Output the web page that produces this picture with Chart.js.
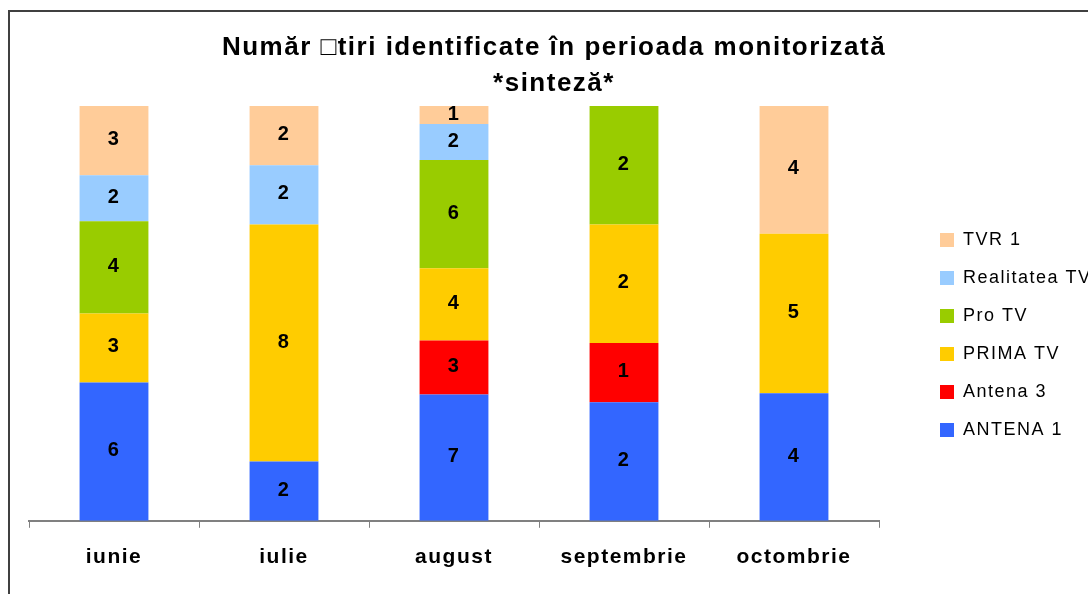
<!DOCTYPE html>
<html>
<head>
<meta charset="utf-8">
<script src="https://cdn.jsdelivr.net/npm/chart.js@4/dist/chart.umd.min.js"></script>
<style>
  html, body { margin: 0; padding: 0; background: #fff; overflow: hidden; width: 1088px; height: 594px; }
  #frame { position: absolute; left: 8px; top: 10px; width: 1200px; height: 700px;
           border-left: 2px solid #404040; border-top: 2px solid #404040; }
  #c { position: absolute; left: 0; top: 0; }
</style>
</head>
<body>
<div id="frame"></div>
<canvas id="c" width="1108" height="594" style="width:1108px;height:594px"></canvas>
<script>
// ---- data ----
const titleLines = ['Număr \u25A1tiri identificate în perioada monitorizată', '*sinteză*'];
const months = ['iunie', 'iulie', 'august', 'septembrie', 'octombrie'];
const seriesNames = ['ANTENA 1', 'Antena 3', 'PRIMA TV', 'Pro TV', 'Realitatea TV', 'TVR 1'];
const antena1    = [6, 2, 7, 2, 4];
const antena3    = [0, 0, 3, 1, 0];
const primaTv    = [3, 8, 4, 2, 5];
const proTv      = [4, 0, 6, 2, 0];
const realitatea = [2, 2, 2, 0, 0];
const tvr1       = [3, 2, 1, 0, 4];
const seriesColors = ['#3366FF', '#FF0000', '#FFCC00', '#99CC00', '#99CCFF', '#FFCC99'];

const rawSeries = [antena1, antena3, primaTv, proTv, realitatea, tvr1];
const totals = months.map((m, j) => rawSeries.reduce((s, arr) => s + arr[j], 0));

const FONT = "'Liberation Sans', Arial, sans-serif";
Chart.defaults.font.family = FONT;
Chart.defaults.color = '#000';

const spacingPlugin = {
  id: 'spacing',
  afterInit(chart) { chart.ctx.letterSpacing = '1.5px'; },
  beforeUpdate(chart) { chart.ctx.letterSpacing = '1.5px'; },
  beforeDraw(chart) { chart.ctx.letterSpacing = '1.5px'; },
  afterLayout(chart) {
    const lg = chart.legend;
    if (!lg) return;
    lg.left = 920; lg.right = 1108; lg.width = lg.right - lg.left;
    lg.top = 211; lg.bottom = 594; lg.height = lg.bottom - lg.top;
  }
};

const valueLabels = {
  id: 'valueLabels',
  afterDatasetsDraw(chart) {
    const ctx = chart.ctx;
    ctx.save();
    ctx.font = 'bold 20px ' + FONT;
    ctx.fillStyle = '#000';
    ctx.textAlign = 'center';
    ctx.textBaseline = 'middle';
    chart.data.datasets.forEach((ds, i) => {
      const meta = chart.getDatasetMeta(i);
      meta.data.forEach((bar, j) => {
        const v = rawSeries[i][j];
        if (!v) return;
        const p = bar.getProps(['x', 'y', 'base'], true);
        ctx.fillText(String(v), p.x, (p.y + p.base) / 2 - 1);
      });
    });
    ctx.restore();
  }
};

new Chart(document.getElementById('c'), {
  type: 'bar',
  data: {
    labels: months,
    datasets: rawSeries.map((arr, i) => ({
      label: seriesNames[i],
      data: arr.map((v, j) => v ? v / totals[j] * 100 : null),
      backgroundColor: seriesColors[i],
      borderWidth: 0,
      barPercentage: 0.405,
      categoryPercentage: 1.0
    }))
  },
  options: {
    responsive: false,
    animation: false,
    layout: { padding: { left: 29, right: 29, top: 0, bottom: 7 } },
    scales: {
      x: {
        stacked: true,
        grid: { drawOnChartArea: false, drawTicks: true, tickLength: 7, color: '#808080', lineWidth: 1, offset: true },
        border: { display: true, color: '#808080', width: 2 },
        ticks: { font: { size: 21, weight: 'bold' }, color: '#000', padding: 17, maxRotation: 0 }
      },
      y: {
        stacked: true,
        position: 'right',
        min: 0, max: 100,
        grid: { display: false },
        border: { display: false },
        ticks: { display: false },
        afterFit(scale) { scale.width = 160; }
      }
    },
    plugins: {
      title: {
        display: true,
        text: titleLines,
        color: '#000',
        font: { size: 26, weight: 'bold', lineHeight: 1.4 },
        padding: { top: 29.3, bottom: 3.9 }
      },
      legend: {
        position: 'right',
        align: 'start',
        reverse: true,
        maxWidth: 40,
        labels: { boxWidth: 14, boxHeight: 14, padding: 20, color: '#000', font: { size: 18 } }
      },
      tooltip: { enabled: false }
    }
  },
  plugins: [spacingPlugin, valueLabels]
});
</script>
</body>
</html>
